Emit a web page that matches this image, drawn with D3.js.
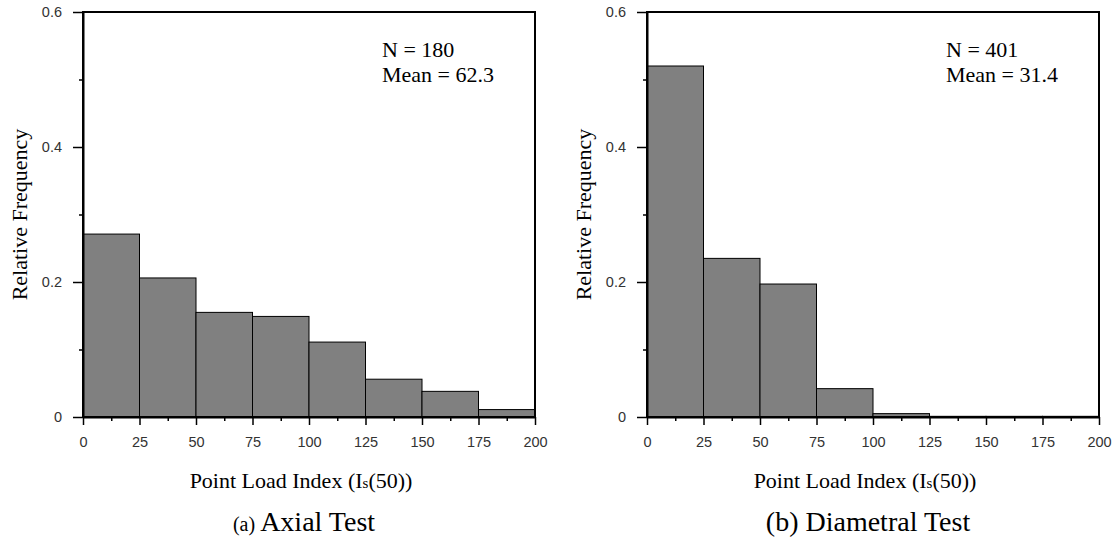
<!DOCTYPE html>
<html>
<head>
<meta charset="utf-8">
<script src="https://cdn.jsdelivr.net/npm/d3@7"></script>
<style>
  html, body { margin: 0; padding: 0; background: #fff; }
  svg { display: block; }
</style>
</head>
<body>
<svg id="chart" width="1117" height="548"></svg>
<script>
// ---- data ----
const binEdges = [0, 25, 50, 75, 100, 125, 150, 175, 200];
const xTicks = [0, 25, 50, 75, 100, 125, 150, 175, 200];
const xMinorTicks = [12.5, 37.5, 62.5, 87.5, 112.5, 137.5, 162.5, 187.5];
const yTicks = [0, 0.2, 0.4, 0.6];
const yMinorTicks = [0.1, 0.3, 0.5];
const axialFreq = [0.271, 0.206, 0.155, 0.149, 0.111, 0.056, 0.038, 0.011];
const diametralFreq = [0.520, 0.235, 0.197, 0.042, 0.005, 0.001, 0.001, 0.001];
const panelLabels = ["(a)", "(b)"];
const panelTitles = ["Axial Test", "Diametral Test"];
const panelN = ["N = 180", "N = 401"];
const panelMean = ["Mean = 62.3", "Mean = 31.4"];

const svg = d3.select("#chart");
svg.append("rect").attr("width", 1117).attr("height", 548).attr("fill", "#fff");

const plotW = 452, plotH = 405, plotTop = 12;
const panels = [
  { left: 83, values: axialFreq, capSmall: true },
  { left: 647, values: diametralFreq, capSmall: false }
];
const serif = "'Liberation Serif', 'Times New Roman', serif";

panels.forEach((p, i) => {
  const x = d3.scaleLinear().domain([0, 200]).range([p.left, p.left + plotW]);
  const y = d3.scaleLinear().domain([0, 0.6]).range([plotTop + plotH, plotTop]);
  const g = svg.append("g");

  // bars
  const bins = p.values.map((v, k) => ({ x0: binEdges[k], x1: binEdges[k + 1], v }));
  g.selectAll("rect.bar").data(bins).join("rect")
    .attr("class", "bar")
    .attr("x", d => x(d.x0))
    .attr("y", d => y(d.v))
    .attr("width", d => x(d.x1) - x(d.x0))
    .attr("height", d => y(0) - y(d.v))
    .attr("fill", "#808080")
    .attr("stroke", "#000")
    .attr("stroke-width", 1);

  // frame (top & right)
  g.append("rect")
    .attr("x", x(0)).attr("y", y(0.6))
    .attr("width", x(200) - x(0)).attr("height", y(0) - y(0.6))
    .attr("fill", "none").attr("stroke", "#000").attr("stroke-width", 2);

  // x axis
  const xa = g.append("g").attr("transform", `translate(0,${y(0)})`)
    .call(d3.axisBottom(x).tickValues(xTicks).tickSize(8).tickSizeOuter(0).tickPadding(12)
      .tickFormat(d3.format("d")));
  const xm = g.append("g").attr("transform", `translate(0,${y(0)})`)
    .call(d3.axisBottom(x).tickValues(xMinorTicks).tickSize(4).tickSizeOuter(0).tickFormat(""));
  xm.select(".domain").remove();

  // y axis
  const ya = g.append("g").attr("transform", `translate(${x(0)},0)`)
    .call(d3.axisLeft(y).tickValues(yTicks).tickSize(10).tickSizeOuter(0).tickPadding(11)
      .tickFormat(d => d === 0 ? "0" : d3.format(".1f")(d)));
  const ym = g.append("g").attr("transform", `translate(${x(0)},0)`)
    .call(d3.axisLeft(y).tickValues(yMinorTicks).tickSize(4).tickSizeOuter(0).tickFormat(""));
  ym.select(".domain").remove();

  [xa, ya, xm, ym].forEach(a => {
    a.selectAll(".domain").attr("stroke", "#000").attr("stroke-width", 2);
    a.selectAll(".tick line").attr("stroke", "#000").attr("stroke-width", 1.5);
    a.selectAll(".tick text")
      .attr("fill", "#333")
      .style("font-family", "'Liberation Sans', Arial, sans-serif")
      .style("font-size", "14.5px");
  });

  // axis titles
  const xt = g.append("text")
    .attr("x", x(100) - 8).attr("y", 488)
    .attr("text-anchor", "middle")
    .style("font-family", serif)
    .style("font-size", "22px")
    .attr("fill", "#000");
  xt.append("tspan").text("Point Load Index (I");
  xt.append("tspan").style("font-size", "15px").text("s");
  xt.append("tspan").text("(50))");

  g.append("text")
    .attr("transform", `translate(${x(0) - 56},${y(0.3)}) rotate(-90)`)
    .attr("text-anchor", "middle")
    .style("font-family", serif)
    .style("font-size", "22px")
    .attr("fill", "#000")
    .text("Relative Frequency");

  // annotation
  const ann = g.append("text")
    .style("font-family", serif)
    .style("font-size", "22px")
    .attr("fill", "#000");
  ann.append("tspan").attr("x", x(0) + 299).attr("y", 57).text(panelN[i]);
  ann.append("tspan").attr("x", x(0) + 299).attr("y", 82).text(panelMean[i]);

  // caption
  const cap = g.append("text")
    .attr("x", x(100) - 5).attr("y", 531)
    .attr("text-anchor", "middle")
    .style("font-family", serif)
    .style("font-size", "28px")
    .attr("fill", "#000");
  cap.append("tspan").style("font-size", p.capSmall ? "20px" : "28px").text(panelLabels[i] + " ");
  cap.append("tspan").text(panelTitles[i]);
});
</script>
</body>
</html>
